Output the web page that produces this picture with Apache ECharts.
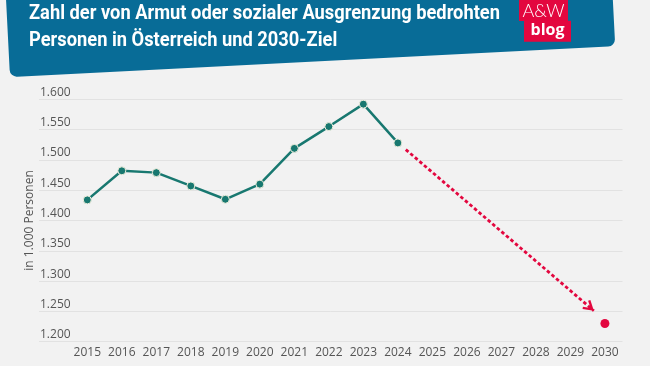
<!DOCTYPE html>
<html>
<head>
<meta charset="utf-8">
<script src="https://cdn.jsdelivr.net/npm/echarts@6/dist/echarts.min.js"></script>
<style>
  html, body { margin: 0; padding: 0; background: #f2f2f2; }
  #chart { width: 650px; height: 366px; }
</style>
</head>
<body>
<div id="chart"></div>
<script>
// ---- data ----
const years = [2015, 2016, 2017, 2018, 2019, 2020, 2021, 2022, 2023, 2024];
const values = [1434, 1482, 1479, 1457, 1435, 1460, 1519, 1555, 1592, 1528];
const targetYear = [2030];
const targetValue = [1230];
const arrowStart = [2024.23, 1517];
const arrowEnd = [2029.68, 1251];
const xTickLabels = [2015, 2016, 2017, 2018, 2019, 2020, 2021, 2022, 2023, 2024, 2025, 2026, 2027, 2028, 2029, 2030];
const titleLines = ['Zahl der von Armut oder sozialer Ausgrenzung bedrohten', 'Personen in Österreich und 2030-Ziel'];
const yAxisTitle = 'in 1.000 Personen';

const TEAL = '#187870';
const RED = '#e3073f';
const BLUE = '#086c97';
const LABEL = '#555555';

const TITLE_FONT = 'bold 21px Roboto';
const mctx = document.createElement('canvas').getContext('2d');
mctx.font = TITLE_FONT;
const titleScale = 471 / mctx.measureText(titleLines[0]).width;

const chart = echarts.init(document.getElementById('chart'), null, { renderer: 'canvas' });

const fmt = v => {
  const s = String(Math.round(v));
  return s.length > 3 ? s.slice(0, s.length - 3) + '.' + s.slice(-3) : s;
};

const option = {
  backgroundColor: '#f2f2f2',
  animation: false,
  grid: { left: 39, right: 27.5, top: 99.3, bottom: 24.3, containLabel: false },
  xAxis: {
    type: 'value',
    min: 2013.6,
    max: 2030.51,
    axisLine: { show: false },
    axisTick: { show: false },
    splitLine: { show: false },
    axisLabel: {
      customValues: xTickLabels,
      formatter: v => String(v),
      color: LABEL,
      fontFamily: 'Open Sans',
      fontSize: 12,
      margin: 5
    }
  },
  yAxis: {
    type: 'value',
    min: 1200,
    max: 1600,
    interval: 50,
    name: yAxisTitle,
    nameLocation: 'middle',
    nameGap: 3,
    nameRotate: 90,
    nameMoveOverlap: false,
    nameTextStyle: { color: LABEL, fontFamily: 'Open Sans', fontSize: 12 },
    axisLine: { show: false },
    axisTick: { show: false },
    splitLine: { show: true, lineStyle: { color: '#e2e2e2', width: 1 } },
    axisLabel: {
      inside: true,
      formatter: fmt,
      color: LABEL,
      fontFamily: 'Open Sans',
      fontSize: 12,
      margin: 1,
      verticalAlign: 'bottom',
      align: 'left',
      padding: [0, 0, 1, 0]
    }
  },
  series: [
    {
      type: 'line',
      data: years.map((y, i) => [y, values[i]]),
      symbol: 'circle',
      symbolSize: 8,
      lineStyle: { color: TEAL, width: 2.5 },
      itemStyle: { color: TEAL, borderColor: '#eeeedd', borderWidth: 1 },
      z: 3
    },
    {
      type: 'scatter',
      data: targetYear.map((y, i) => [y, targetValue[i]]),
      symbol: 'circle',
      symbolSize: 9,
      itemStyle: { color: RED, opacity: 1 },
      z: 3
    },
    {
      type: 'line',
      data: [],
      markLine: {
        silent: true,
        animation: false,
        symbol: ['none', 'path://M5 0 L10 8.6 L8.3 9.7 L5 3.9 L1.7 9.7 L0 8.6 Z'],
        symbolSize: [12, 11],
        symbolOffset: [0, [0, 5.5]],
        label: { show: false },
        lineStyle: { color: RED, width: 2.8, type: [3.5, 2.5], opacity: 1 },
        data: [[{ coord: arrowStart }, { coord: arrowEnd }]]
      }
    }
  ],
  graphic: [
    {
      type: 'group',
      x: 10, y: 77,
      rotation: 0.051,
      children: [
        { type: 'rect', shape: { x: 0, y: -130, width: 606, height: 130, r: 7 }, style: { fill: BLUE } }
      ]
    },
    {
      type: 'text', x: 29, y: 13.5, scaleX: titleScale,
      style: { text: titleLines[0], fill: '#ffffff', font: TITLE_FONT, verticalAlign: 'middle' }
    },
    {
      type: 'text', x: 29, y: 40.5, scaleX: titleScale,
      style: { text: titleLines[1], fill: '#ffffff', font: TITLE_FONT, verticalAlign: 'middle' }
    },
    { type: 'rect', shape: { x: 519, y: -5, width: 49, height: 26 }, style: { fill: RED } },
    { type: 'rect', shape: { x: 524, y: 20.7, width: 47, height: 21 }, style: { fill: RED } },
    {
      type: 'text', x: 543.5, y: 11,
      style: { text: 'A&W', fill: '#ffffff', font: '300 18px "Lato"', align: 'center', verticalAlign: 'middle' }
    },
    {
      type: 'text', x: 547.5, y: 30.5,
      style: { text: 'blog', fill: '#ffffff', font: 'bold 16px "Open Sans"', align: 'center', verticalAlign: 'middle' }
    }
  ]
};
chart.setOption(option);
</script>
</body>
</html>
